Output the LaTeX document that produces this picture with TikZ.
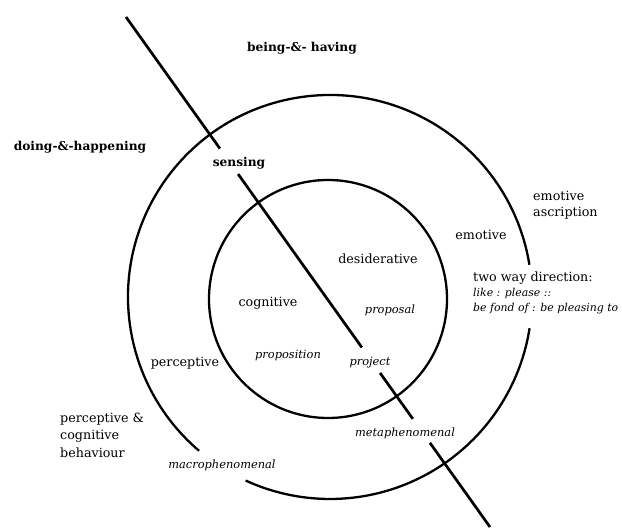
\documentclass[tikz,border=0pt]{standalone}
\usepackage{fontspec}
\setmainfont{DejaVu Serif}
\usetikzlibrary{calc}
\begin{document}
\begin{tikzpicture}[x=1pt,y=1pt,
  ring/.style={line width=2.3pt},
  axisline/.style={line width=2.7pt},
  lbl/.style={inner sep=0pt,font=\fontsize{12.7}{16}\selectfont},
  blbl/.style={inner sep=0pt,font=\fontsize{12.2}{16}\selectfont\bfseries},
  ilbl/.style={inner sep=0pt,font=\fontsize{11.4}{16}\selectfont\itshape}]
\useasboundingbox (0,0) rectangle (622,529);
% circles
\coordinate (Co) at (330,232);
\coordinate (Ci) at (328,230);
\draw[ring] (Ci) circle[radius=119];
\draw[ring] ([shift={(9.2:202)}]Co) arc[start angle=9.2,end angle=229.6,radius=202];
\draw[ring] ([shift={(245.3:202)}]Co) arc[start angle=245.3,end angle=351.1,radius=202];
% diagonal axis
\coordinate (A) at (126,512);
\coordinate (B) at (490,2);
\coordinate (L1a) at (A);
\coordinate (L1b) at ($(A)!0.258!(B)$);
\coordinate (L2a) at ($(A)!0.308!(B)$);
\coordinate (L2b) at ($(A)!0.648!(B)$);
\coordinate (L3a) at ($(A)!0.698!(B)$);
\coordinate (L3b) at ($(A)!0.788!(B)$);
\coordinate (L4a) at ($(A)!0.835!(B)$);
\coordinate (L4b) at (B);
\draw[axisline] (L1a) -- (L1b);
\draw[axisline] (L2a) -- (L2b);
\draw[axisline] (L3a) -- (L3b);
\draw[axisline] (L4a) -- (L4b);
% labels
\node[blbl] (being) at (302,481) {being-\&- having};
\node[blbl] (doing) at (80,382) {doing-\&-happening};
\node[blbl] (sensing) at (239,366) {sensing};
\node[lbl,align=left,anchor=west] (emoasc) at (533,324) {emotive\\ascription};
\node[lbl] (emotive) at (481,294) {emotive};
\node[lbl] (desid) at (378,270) {desiderative};
\node[lbl] (cogn) at (268,226) {cognitive};
\node[ilbl] (proposal) at (390,219) {proposal};
\node[ilbl] (proposition) at (288,174) {proposition};
\node[ilbl] (project) at (370,166) {project};
\node[lbl] (percep) at (185,166) {perceptive};
\node[lbl,align=left,anchor=west,font=\fontsize{12.7}{15}\selectfont] (twoway) at (473,236) {two way direction:\\{\fontsize{10.9}{15}\selectfont\itshape like : please ::}\\{\fontsize{10.9}{15}\selectfont\itshape be fond of : be pleasing to}};
\node[ilbl] (meta) at (405,96) {metaphenomenal};
\node[lbl,align=left,anchor=west,font=\fontsize{12.7}{17.5}\selectfont] (pcb) at (60,94) {perceptive \&\\cognitive\\behaviour};
\node[ilbl] (macro) at (222,64) {macrophenomenal};
\end{tikzpicture}
\end{document}
